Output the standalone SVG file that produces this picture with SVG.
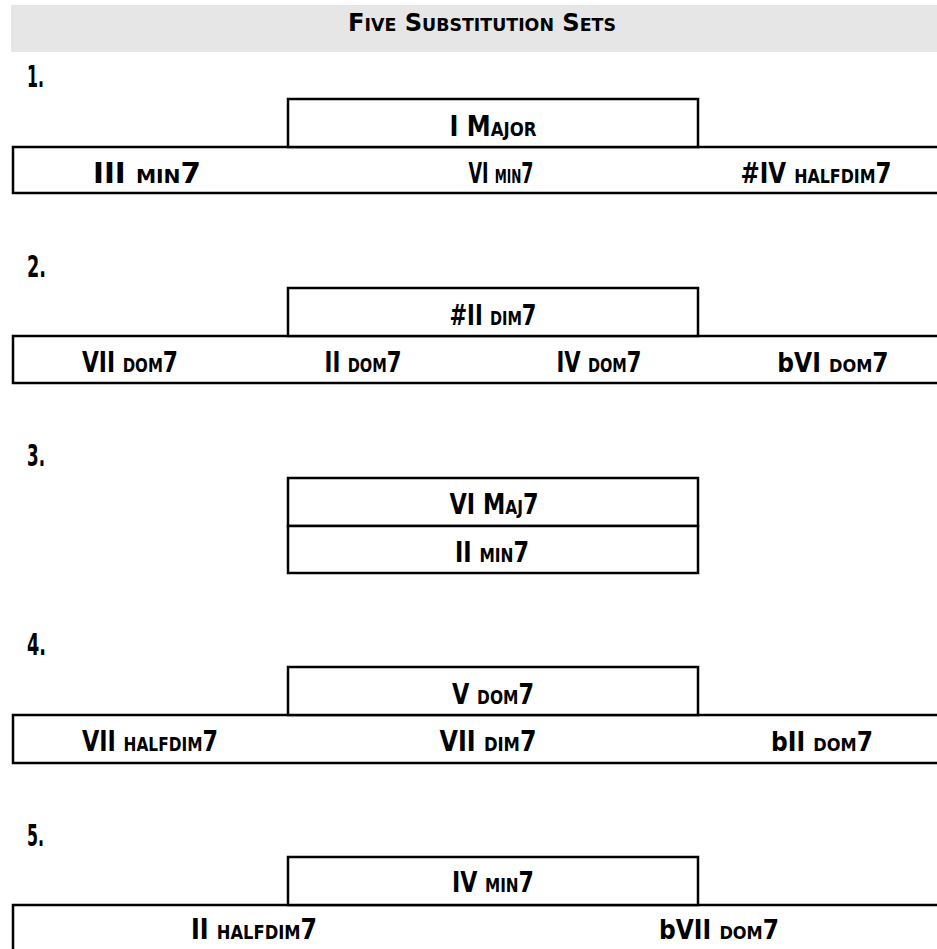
<svg xmlns="http://www.w3.org/2000/svg" width="937" height="949" viewBox="0 0 937 949">
<style>
.t{font-family:"DejaVu Sans Condensed","Liberation Sans",sans-serif;font-weight:bold;font-variant:small-caps;fill:#000;text-anchor:middle;font-size:29px}
.h{font-size:25px}
.f{font-variant:normal}
.s{font-size:26px}
.n{font-family:"DejaVu Sans Condensed","Liberation Sans",sans-serif;font-weight:bold;font-size:30px;fill:#000}
.b{fill:#fff;stroke:#000;stroke-width:2.5}
</style>
<rect x="11" y="5" width="926" height="47" fill="#e6e6e6"/>
<text class="t h" x="482" y="31" textLength="268" lengthAdjust="spacingAndGlyphs">Five Substitution Sets</text>

<g id="set1">
<text class="n" x="27" y="87" textLength="17" lengthAdjust="spacingAndGlyphs">1.</text>
<g id="s1-row"><rect class="b" x="13" y="147" width="1000" height="46"/>
<text class="t" x="147" y="183" textLength="108" lengthAdjust="spacingAndGlyphs">III min7</text>
<text class="t" x="501" y="183" textLength="65" lengthAdjust="spacingAndGlyphs">VI min7</text>
<text class="t" x="816" y="183" textLength="151" lengthAdjust="spacingAndGlyphs">#IV halfdim7</text></g>
<g id="s1-top"><rect class="b" x="288" y="99" width="410" height="48"/>
<text class="t" x="493" y="136" textLength="87" lengthAdjust="spacingAndGlyphs">I Major</text></g>
</g>

<g id="set2">
<text class="n" x="27" y="277" textLength="19" lengthAdjust="spacingAndGlyphs">2.</text>
<g id="s2-row"><rect class="b" x="13" y="336" width="1000" height="47"/>
<text class="t" x="130" y="372" textLength="96" lengthAdjust="spacingAndGlyphs">VII dom7</text>
<text class="t" x="363" y="372" textLength="77" lengthAdjust="spacingAndGlyphs">II dom7</text>
<text class="t" x="599" y="372" textLength="85" lengthAdjust="spacingAndGlyphs">IV dom7</text>
<text class="t s" x="833" y="372"><tspan class="f">b</tspan>VI dom7</text></g>
<g id="s2-top"><rect class="b" x="288" y="288" width="410" height="48"/>
<text class="t" x="493" y="325" textLength="87" lengthAdjust="spacingAndGlyphs">#II dim7</text></g>
</g>

<g id="set3">
<text class="n" x="27" y="466" textLength="18" lengthAdjust="spacingAndGlyphs">3.</text>
<g id="s3-top"><rect class="b" x="288" y="478" width="410" height="48"/>
<text class="t" x="494" y="514" textLength="89" lengthAdjust="spacingAndGlyphs">VI Maj7</text></g>
<g id="s3-bottom"><rect class="b" x="288" y="526" width="410" height="47"/>
<text class="t" x="492" y="562" textLength="74" lengthAdjust="spacingAndGlyphs">II min7</text></g>
</g>

<g id="set4">
<text class="n" x="27" y="655" textLength="19" lengthAdjust="spacingAndGlyphs">4.</text>
<g id="s4-row"><rect class="b" x="13" y="715" width="1000" height="48"/>
<text class="t" x="150" y="751" textLength="136" lengthAdjust="spacingAndGlyphs">VII halfdim7</text>
<text class="t" x="488" y="751" textLength="97" lengthAdjust="spacingAndGlyphs">VII dim7</text>
<text class="t s" x="822" y="751"><tspan class="f">b</tspan>II dom7</text></g>
<g id="s4-top"><rect class="b" x="288" y="667" width="410" height="48"/>
<text class="t" x="493" y="704" textLength="82" lengthAdjust="spacingAndGlyphs">V dom7</text></g>
</g>

<g id="set5">
<text class="n" x="27" y="846" textLength="17" lengthAdjust="spacingAndGlyphs">5.</text>
<g id="s5-row"><rect class="b" x="13" y="905" width="1000" height="60"/>
<text class="t" x="254" y="939" textLength="126" lengthAdjust="spacingAndGlyphs">II halfdim7</text>
<text class="t s" x="719" y="939"><tspan class="f">b</tspan>VII dom7</text></g>
<g id="s5-top"><rect class="b" x="288" y="857" width="410" height="48"/>
<text class="t" x="493" y="892" textLength="82" lengthAdjust="spacingAndGlyphs">IV min7</text></g>
</g>
<g id="connectors"/>
</svg>
